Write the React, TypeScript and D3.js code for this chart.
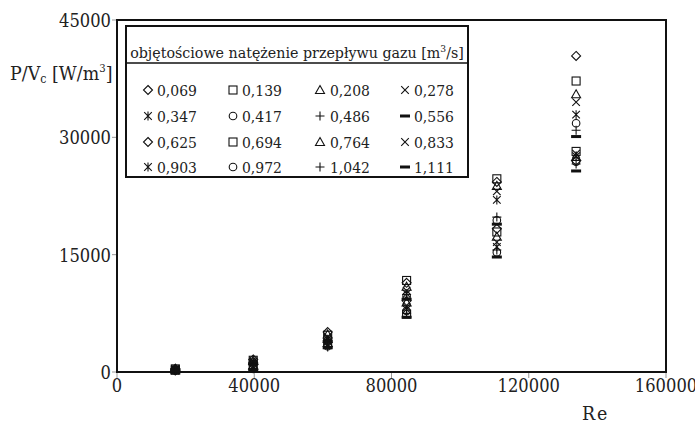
import React from "react";
import * as d3 from "d3";

const reValues = [17000, 39700, 61400, 84400, 110700, 133800];
const flowLabels = ["0,069","0,139","0,208","0,278","0,347","0,417","0,486","0,556","0,625","0,694","0,764","0,833","0,903","0,972","1,042","1,111"];
const markerKinds = ["diamond","square","triangle","x","star","circle","plus","dash","diamond","square","triangle","x","star","circle","plus","dash"];
const s0069 = [420, 1600, 5100, 11400, 24300, 40400];
const s0139 = [400, 1500, 4700, 11700, 24700, 37200];
const s0208 = [380, 1450, 4800, 10900, 23800, 35500];
const s0278 = [360, 1350, 4400, 10400, 23100, 34500];
const s0347 = [340, 1300, 4200, 10000, 22000, 32900];
const s0417 = [320, 1200, 4000, 9700, 19400, 31800];
const s0486 = [300, 1150, 4100, 9900, 19800, 30900];
const s0556 = [280, 1050, 3900, 9300, 18900, 30100];
const s0625 = [260, 950, 3800, 9100, 18300, 27000];
const s0694 = [240, 900, 3600, 7400, 17900, 28200];
const s0764 = [220, 800, 3700, 8900, 17300, 27500];
const s0833 = [200, 700, 3500, 8300, 16600, 27900];
const s0903 = [180, 600, 3400, 8000, 16000, 27600];
const s0972 = [160, 500, 3300, 7800, 15300, 26900];
const s1042 = [140, 400, 3200, 7500, 15600, 26600];
const s1111 = [120, 300, 3100, 7000, 14700, 25700];
const seriesValues = [s0069,s0139,s0208,s0278,s0347,s0417,s0486,s0556,s0625,s0694,s0764,s0833,s0903,s0972,s1042,s1111];
const xTicks = [0, 40000, 80000, 120000, 160000];
const yTicks = [0, 15000, 30000, 45000];

const FONT = "DejaVu Serif, serif";

function Marker({ kind, x, y }: { kind: string; x: number; y: number }) {
  const s = 4.5;
  const common = { fill: "none", stroke: "#111", strokeWidth: 1.1 };
  switch (kind) {
    case "diamond":
      return <path d={`M${x},${y - s}L${x + s},${y}L${x},${y + s}L${x - s},${y}Z`} {...common} />;
    case "square":
      return <rect x={x - 4} y={y - 4} width={8} height={8} {...common} />;
    case "triangle":
      return <path d={`M${x},${y - 4.5}L${x + 4.5},${y + 3.5}L${x - 4.5},${y + 3.5}Z`} {...common} />;
    case "x":
      return <path d={`M${x - 3.8},${y - 3.8}L${x + 3.8},${y + 3.8}M${x - 3.8},${y + 3.8}L${x + 3.8},${y - 3.8}`} {...common} />;
    case "star":
      return <path d={`M${x - 3.8},${y - 3.8}L${x + 3.8},${y + 3.8}M${x - 3.8},${y + 3.8}L${x + 3.8},${y - 3.8}M${x},${y - 4.5}L${x},${y + 4.5}`} {...common} />;
    case "circle":
      return <circle cx={x} cy={y} r={3.8} {...common} />;
    case "plus":
      return <path d={`M${x - 4.5},${y}L${x + 4.5},${y}M${x},${y - 4.5}L${x},${y + 4.5}`} {...common} />;
    case "dash":
      return <rect x={x - 5} y={y - 1.5} width={10} height={3} fill="#111" />;
  }
  return null;
}

export default function App() {
  const W = 695, H = 423;
  const left = 117, right = 666, top = 20, bottom = 372;
  const x = d3.scaleLinear().domain([0, 160000]).range([left, right]);
  const y = d3.scaleLinear().domain([0, 45000]).range([bottom, top]);

  const legendX = 126, legendY = 26, legendW = 342, legendH = 151;
  const colMarker = [148, 233, 320, 405];
  const colText = [157, 242, 330, 414];
  const rowBase = [96, 122, 148, 173];
  const tickSX = 0.86;
  const legSX = 0.9;

  return (
    <svg width={W} height={H} style={{ position: "absolute", left: 0, top: 0, background: "#fff" }} fontFamily={FONT}>
      <rect x={0} y={0} width={W} height={H} fill="#fff" />
      {yTicks.map((t) => (
        <g key={"y" + t}>
          <line x1={left - 5} x2={left} y1={y(t)} y2={y(t)} stroke="#999" strokeWidth={1} />
          <text transform={`translate(${left - 6},${y(t) + 7}) scale(${tickSX},1)`} fontSize={19} textAnchor="end" fill="#222">{t}</text>
        </g>
      ))}
      {xTicks.map((t) => (
        <g key={"x" + t}>
          <line x1={x(t)} x2={x(t)} y1={bottom} y2={bottom + 6} stroke="#999" strokeWidth={1} />
          <text transform={`translate(${x(t)},${bottom + 20}) scale(${tickSX},1)`} fontSize={19} textAnchor="middle" fill="#222">{t}</text>
        </g>
      ))}
      <rect x={left} y={top} width={right - left} height={bottom - top} fill="none" stroke="#111" strokeWidth={2} />
      {seriesValues.map((vals, si) =>
        vals.map((v, ci) => (
          <Marker key={si + "-" + ci} kind={markerKinds[si]} x={x(reValues[ci])} y={y(v)} />
        ))
      )}
      <rect x={legendX} y={legendY} width={legendW} height={legendH} fill="#fff" stroke="#111" strokeWidth={2} />
      <line x1={legendX} x2={legendX + legendW} y1={63} y2={63} stroke="#111" strokeWidth={1.5} />
      <text transform={`translate(${legendX + legendW / 2},58) scale(0.92,1)`} fontSize={15.5} textAnchor="middle" fill="#222">
        objętościowe natężenie przepływu gazu [m<tspan dy={-6} fontSize={10}>3</tspan><tspan dy={6}>/s]</tspan>
      </text>
      {flowLabels.map((lab, i) => {
        const r = Math.floor(i / 4), c = i % 4;
        return (
          <g key={"l" + i}>
            <Marker kind={markerKinds[i]} x={colMarker[c]} y={rowBase[r] - 6} />
            <text transform={`translate(${colText[c]},${rowBase[r]}) scale(${legSX},1)`} fontSize={15.5} fill="#222">{lab}</text>
          </g>
        );
      })}
      <text transform="translate(10,80) scale(0.92,1)" fontSize={19} fill="#222">
        P/V<tspan fontSize={12} dy={3}>c</tspan><tspan dy={-3}> [W/m</tspan><tspan fontSize={11} dy={-8}>3</tspan><tspan dy={8}>]</tspan>
      </text>
      <text transform="translate(582,420) scale(0.92,1)" fontSize={19} fill="#222" letterSpacing={2}>Re</text>
    </svg>
  );
}
